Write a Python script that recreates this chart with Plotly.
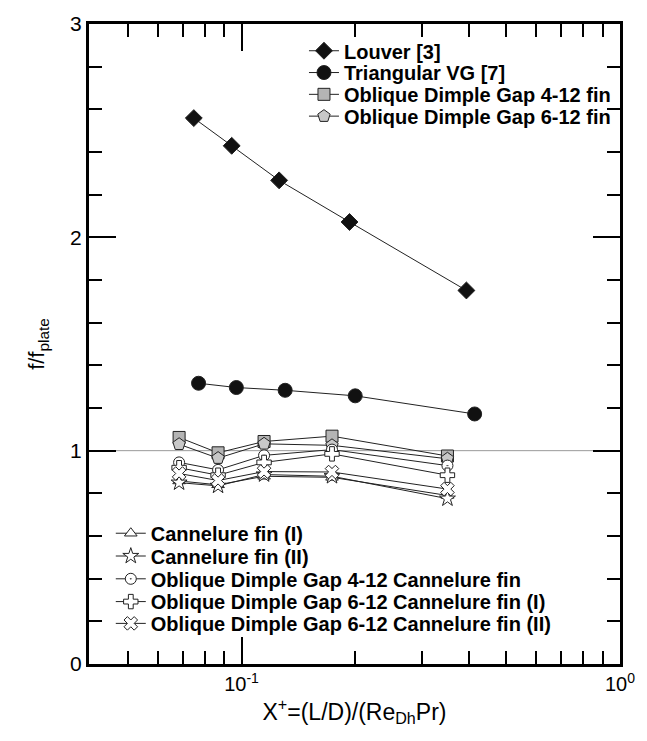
import plotly.graph_objects as go

# ---- data ----
louver_x = [0.0748, 0.0942, 0.1257, 0.1929, 0.3928]
louver_y = [2.559, 2.429, 2.267, 2.072, 1.751]

tvg_x = [0.0770, 0.0969, 0.1304, 0.1997, 0.4130]
tvg_y = [1.316, 1.296, 1.283, 1.257, 1.172]

low_x = [0.0684, 0.0867, 0.1147, 0.1734, 0.3500]
odg412_y = [1.062, 0.990, 1.043, 1.068, 0.975]
odg612_y = [1.030, 0.965, 1.032, 1.025, 0.962]
can1_y = [0.858, 0.840, 0.880, 0.875, 0.790]
can2_y = [0.850, 0.835, 0.888, 0.880, 0.775]
odg412c_y = [0.945, 0.910, 0.978, 1.005, 0.930]
odg612c1_y = [0.920, 0.885, 0.945, 0.985, 0.885]
odg612c2_y = [0.893, 0.860, 0.902, 0.900, 0.820]

x_tickvals = [0.1, 1.0]
x_ticktext = ["10<sup>-1</sup>", "10<sup>0</sup>"]
x_minor = [0.05, 0.06, 0.07, 0.08, 0.09, 0.2, 0.3, 0.4, 0.5, 0.6, 0.7, 0.8, 0.9]
y_tickvals = [0, 1, 2, 3]
y_minor = [0.2, 0.4, 0.6, 0.8, 1.2, 1.4, 1.6, 1.8, 2.2, 2.4, 2.6, 2.8]

W, H = 647, 741
ML, MR, MT, MB = 89, 22, 18, 77
PW, PH = W - ML - MR, H - MT - MB

LINE = "#222222"
fig = go.Figure()

# one legend per entry so that row spacing can match the reference
legend_rows = []

def add(name, x, y, symbol, fill, size, lx_px, ly_px):
    idx = len(legend_rows) + 1
    lname = "legend" if idx == 1 else f"legend{idx}"
    legend_rows.append((lname, lx_px, ly_px))
    fig.add_trace(go.Scatter(
        x=x, y=y, name=name, mode="lines+markers", legend=lname,
        line=dict(color=LINE, width=1),
        marker=dict(symbol=symbol, color=fill, size=size,
                    line=dict(color="#222222", width=1)),
    ))

TOPX, BOTX = 306, 111
add("Louver [3]", louver_x, louver_y, "diamond", "#111111", 13, TOPX, 45)
add("Triangular VG [7]", tvg_x, tvg_y, "circle", "#111111", 14, TOPX, 67)
add("Oblique Dimple Gap 4-12 fin", low_x, odg412_y, "square", "#b4b4b4", 12, TOPX, 89)
add("Oblique Dimple Gap 6-12 fin", low_x, odg612_y, "pentagon", "#c8c8c8", 13, TOPX, 111)
add("Cannelure fin (I)", low_x, can1_y, "triangle-up", "white", 11, BOTX, 532)
add("Cannelure fin (II)", low_x, can2_y, "star", "white", 12, BOTX, 555)
add("Oblique Dimple Gap 4-12 Cannelure fin", low_x, odg412c_y, "circle-dot", "white", 11, BOTX, 578)
add("Oblique Dimple Gap 6-12 Cannelure fin (I)", low_x, odg612c1_y, "cross", "white", 12, BOTX, 601)
add("Oblique Dimple Gap 6-12 Cannelure fin (II)", low_x, odg612c2_y, "x", "white", 12, BOTX, 623)

fig.add_shape(type="line", xref="paper", yref="y", x0=0, x1=1, y0=1, y1=1,
              line=dict(color="#999999", width=1), layer="below")

legfont = dict(family="Liberation Sans, Arial, sans-serif", size=20,
               color="black", weight="bold")
layout_legends = {}
for lname, lx, ly in legend_rows:
    layout_legends[lname] = dict(
        x=(lx - ML) / PW, y=1 - (ly - MT) / PH,
        xanchor="left", yanchor="middle",
        bgcolor="rgba(0,0,0,0)", font=legfont, itemwidth=30,
    )

fig.update_layout(
    width=W, height=H,
    margin=dict(l=ML, r=MR, t=MT, b=MB),
    paper_bgcolor="white", plot_bgcolor="white",
    font=dict(family="Liberation Sans, Arial, sans-serif", size=20, color="black"),
    showlegend=True,
    **layout_legends,
)
fig.update_xaxes(
    type="log", range=[-1.403, 0],
    tickvals=x_tickvals, ticktext=x_ticktext,
    ticks="inside", ticklen=27, tickwidth=1.5, tickcolor="black",
    minor=dict(tickvals=x_minor, ticks="inside", ticklen=13, tickwidth=1.5, tickcolor="black"),
    showline=True, linewidth=3, linecolor="black", mirror="ticks",
    showgrid=False, zeroline=False,
    tickfont=dict(size=20),
    title=dict(text="X<sup>+</sup>=(L/D)/(Re<sub>Dh</sub>Pr)", font=dict(size=23), standoff=10),
)
fig.update_yaxes(
    range=[0, 3],
    tickvals=y_tickvals,
    ticks="inside", ticklen=27, tickwidth=1.5, tickcolor="black",
    minor=dict(tickvals=y_minor, ticks="inside", ticklen=13, tickwidth=1.5, tickcolor="black"),
    showline=True, linewidth=3, linecolor="black", mirror="ticks",
    showgrid=False, zeroline=False,
    tickfont=dict(size=21),
    title=dict(text="f/f<sub>plate</sub>", font=dict(size=22), standoff=20),
)

fig.write_html("out.html")
